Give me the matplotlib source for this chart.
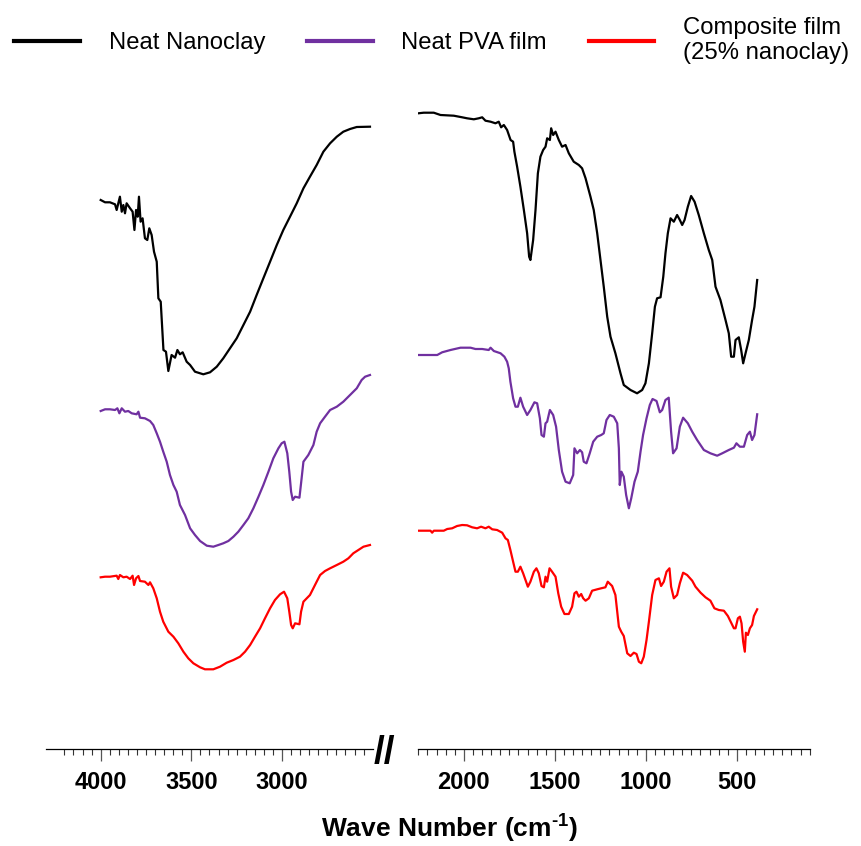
import matplotlib
matplotlib.use("Agg")
import matplotlib.pyplot as plt
from matplotlib.ticker import FixedLocator
from matplotlib.lines import Line2D

plt.rcParams['font.family'] = ['Liberation Sans', 'DejaVu Sans']
plt.rcParams['mathtext.fontset'] = 'custom'
plt.rcParams['mathtext.rm'] = 'Liberation Sans:bold'
plt.rcParams['mathtext.bf'] = 'Liberation Sans:bold'

# FTIR spectra, transmittance in arbitrary units (curves are offset)
# high wave number region (4000 - 2500 cm-1)
clay_hi_wn = [4000, 3976, 3949, 3921, 3912, 3894, 3884, 3875, 3866, 3857, 3838, 3824, 3814, 3805,
              3796, 3789, 3780, 3769, 3756, 3743, 3732, 3719, 3706, 3691, 3682, 3669, 3654, 3640,
              3627, 3609, 3590, 3577, 3563, 3548, 3526, 3507, 3480, 3434, 3397, 3360, 3324, 3287,
              3250, 3213, 3176, 3140, 3103, 3066, 3029, 2993, 2956, 2919, 2882, 2846, 2809, 2772,
              2735, 2698, 2662, 2625, 2588, 2515]
clay_hi_t = [550, 547.7, 547.7, 545.7, 540, 553.3, 538.3, 545, 536.7, 546.7, 541.7, 538.3, 520, 540,
             533.3, 553.3, 528.3, 531.7, 511.7, 510, 521.7, 515, 498.3, 488.3, 451.7, 448.3, 400, 398.3,
             379, 395, 392.3, 400, 395.7, 397.7, 388.3, 385, 378.3, 375.7, 377.7, 383.3, 391.7, 401.7,
             411.7, 425, 438.3, 455, 471.7, 488.3, 505, 520, 533.3, 546.7, 561.7, 573.3, 585, 598.3,
             606.7, 613.3, 618.3, 621, 623, 623.3]

pva_hi_wn = [4000, 3976, 3949, 3921, 3908, 3897, 3884, 3866, 3848, 3829, 3802, 3792, 3783, 3756,
             3728, 3710, 3691, 3673, 3655, 3636, 3618, 3599, 3581, 3563, 3535, 3507, 3480, 3452,
             3415, 3379, 3351, 3324, 3296, 3268, 3241, 3213, 3186, 3158, 3130, 3103, 3075, 3048,
             3020, 3002, 2987, 2971, 2960, 2950, 2941, 2928, 2904, 2892, 2882, 2855, 2827, 2809,
             2790, 2763, 2735, 2698, 2662, 2625, 2588, 2561, 2542, 2515]
pva_hi_t = [339, 340.7, 340.7, 340, 341.7, 336.7, 341.7, 338.3, 339, 336.7, 335.7, 338.3, 332.3, 331.7,
            329, 325, 316.7, 308.3, 298.3, 288.3, 275, 265, 258.3, 245, 235, 221.7, 215, 209,
            204.3, 203.3, 205, 206.7, 209, 213.3, 218.3, 225, 231.7, 241.7, 253.3, 265, 278.3, 291.7,
            301.7, 306.7, 308.3, 296.7, 278.3, 258.3, 250, 253.3, 252.3, 271.7, 288.3, 295, 305, 318.3,
            326.7, 333.3, 340, 343.3, 348.3, 355, 361.7, 370, 373.3, 375]

comp_hi_wn = [4000, 3976, 3949, 3912, 3903, 3894, 3875, 3857, 3838, 3824, 3816, 3805, 3792, 3783,
              3756, 3737, 3728, 3710, 3691, 3673, 3655, 3627, 3599, 3572, 3544, 3517, 3489, 3452,
              3425, 3379, 3342, 3305, 3268, 3232, 3204, 3176, 3149, 3121, 3094, 3066, 3039, 3011,
              2989, 2971, 2960, 2950, 2941, 2928, 2904, 2895, 2882, 2846, 2809, 2790, 2763, 2735,
              2698, 2662, 2634, 2607, 2579, 2551, 2515]
comp_hi_t = [172.7, 173.3, 173.3, 174.3, 171, 175, 172.7, 173.3, 171, 174.3, 165, 171.7, 174, 169,
             168.3, 165, 167.7, 161.7, 151.7, 138.3, 128.3, 118.3, 113.3, 106.7, 98.3, 91.7, 86.7, 82.7,
             80.7, 80.7, 83.3, 87.3, 90, 93.3, 98.3, 105, 113.3, 121.7, 131.7, 141.7, 150, 155.7,
             158.3, 151.7, 138.3, 125, 121.7, 126.7, 125.7, 138.3, 148.3, 155, 168.3, 175, 179, 181.7,
             185, 188.3, 191.7, 196.7, 200, 203.3, 205]

# low wave number region (2250 - 400 cm-1)
clay_lo_wn = [2250, 2220, 2165, 2128, 2055, 2009, 1982, 1945, 1918, 1899, 1881, 1853, 1826, 1808,
              1795, 1780, 1762, 1743, 1729, 1722, 1707, 1689, 1670, 1652, 1641, 1634, 1619, 1606,
              1593, 1579, 1564, 1551, 1542, 1527, 1520, 1509, 1496, 1478, 1460, 1441, 1423, 1396,
              1368, 1350, 1331, 1304, 1286, 1267, 1249, 1231, 1212, 1194, 1167, 1139, 1121, 1084,
              1048, 1020, 1002, 983, 965, 950, 938, 919, 904, 892, 879, 864, 846, 828, 813, 800,
              787, 769, 751, 732, 709, 681, 654, 635, 617, 590, 562, 544, 531, 516, 507, 489, 476,
              465, 452, 434, 416, 403, 388]
clay_lo_t = [636.7, 637.3, 637.3, 635, 634.3, 632.7, 631.7, 630.7, 631.7, 632.7, 629.3, 628.3, 626.7, 628.3,
             622.7, 625, 620, 610, 608.3, 598.3, 583.3, 563.3, 540, 516.7, 493.3, 490, 510, 540,
             576.7, 593.3, 600, 603.3, 611.7, 610, 621.7, 615, 618.3, 610, 603.3, 605, 596.7, 588.3,
             585, 581.7, 571.7, 553.3, 540, 516.7, 490, 463.3, 433.3, 413.3, 396.7, 376.7, 365, 360,
             356.7, 360, 366.7, 386.7, 416.7, 443.3, 451.7, 452.7, 473.3, 496.7, 516.7, 531.7, 528.3, 535, 530, 525,
             530, 543.3, 554, 548.3, 535, 516.7, 500, 490, 463.3, 450, 430, 416.7, 393.3, 393.3, 410, 412.7, 400,
             386.7, 396.7, 410, 430, 443.3, 470]

pva_lo_wn = [2250, 2146, 2119, 2073, 2018, 1963, 1936, 1899, 1863, 1853, 1835, 1798, 1777, 1762,
             1753, 1744, 1729, 1716, 1703, 1689, 1674, 1652, 1634, 1612, 1597, 1582, 1573, 1560,
             1551, 1542, 1527, 1509, 1493, 1478, 1460, 1441, 1418, 1399, 1392, 1377, 1362, 1350,
             1341, 1326, 1308, 1289, 1267, 1245, 1231, 1216, 1198, 1176, 1157, 1148, 1143, 1134,
             1121, 1108, 1093, 1080, 1062, 1044, 1029, 1015, 996, 978, 963, 941, 923, 910, 892,
             874, 861, 850, 831, 813, 795, 769, 745, 718, 681, 645, 608, 580, 544, 516, 502, 483,
             461, 443, 428, 416, 403, 388]
pva_lo_t = [395, 395, 397.7, 400, 402.3, 402.3, 401, 401, 400, 402.3, 399, 396.7, 393.3, 388.3,
            381.7, 368.3, 351.7, 343.3, 343.3, 352.3, 343.3, 335, 340, 347.7, 346.7, 331.7, 315, 313.3,
            326.7, 328.3, 340, 335, 323.3, 300, 278.3, 268.3, 266.7, 275, 301.7, 296.7, 300, 297.7,
            288.3, 286.7, 296.7, 308.3, 313.3, 315, 316.7, 330, 335, 333.3, 326.7, 301.7, 265, 278.3,
            273.3, 255, 241.7, 251.7, 268.3, 278.3, 298.3, 315, 331.7, 345, 351, 349, 337.7, 340, 350,
            352.3, 318.3, 296.7, 301.7, 323.3, 332.3, 326.7, 318.3, 310, 300, 296.7, 294.3, 296.7, 300, 302.3, 306.7, 303.3,
            303.3, 315, 318.3, 310, 315, 335.7]

comp_lo_wn = [2250, 2183, 2174, 2165, 2110, 2091, 2064, 2037, 2009, 1982, 1954, 1927, 1905, 1881,
              1863, 1844, 1817, 1789, 1771, 1758, 1744, 1729, 1716, 1703, 1689, 1674, 1661, 1648,
              1634, 1615, 1601, 1588, 1573, 1560, 1551, 1542, 1529, 1515, 1496, 1481, 1465, 1447,
              1423, 1405, 1392, 1381, 1368, 1355, 1344, 1331, 1313, 1295, 1267, 1245, 1222, 1209,
              1185, 1167, 1148, 1135, 1121, 1102, 1084, 1066, 1051, 1038, 1025, 1011, 996, 983,
              965, 947, 928, 916, 901, 886, 870, 861, 846, 828, 813, 795, 773, 745, 727, 699, 672,
              645, 623, 599, 571, 549, 531, 516, 507, 494, 483, 474, 465, 456, 450, 439, 428, 416,
              406, 388]
comp_lo_t = [219.3, 219.3, 217.3, 219.3, 219.3, 221, 221.7, 224, 225, 224.7, 222.7, 221.7, 223.3, 221.7,
             223.3, 220.7, 220, 217.3, 211.7, 210, 200, 188.3, 178.3, 178.3, 183.3, 176.7, 170, 163.3,
             168.3, 178.3, 181.7, 176.7, 164, 162.7, 173.3, 168.3, 181.7, 178.3, 173.3, 156.7, 143.3, 136,
             136, 143.3, 156.7, 158.3, 153.3, 156, 151.7, 149.3, 151.7, 159.3, 160.7, 161.7, 162.7, 168.3,
             164, 155, 123.3, 118.3, 114, 96.7, 94, 97.3, 96, 88.3, 86.7, 93.3, 110, 128.3,
             155, 170, 171.7, 164, 168.3, 178.3, 181.7, 163.3, 151.7, 155, 166.7, 177.3, 175, 169.3, 163.3, 157.3, 152.7,
             149.3, 141.7, 140, 139.3, 134, 127.3, 121.7, 121.7, 131.7, 133.3, 126.7, 108.3, 98.3, 117.3, 115, 121.7, 125,
             134, 140.7]

labels = ['Neat Nanoclay', 'Neat PVA film', 'Composite film\n(25% nanoclay)']
colors = ['black', '#7030A0', '#FF0000']

W, H = 861, 846
fig = plt.figure(figsize=(W / 100, H / 100), dpi=100)

bottom = 97 / H
height = 650 / H
ax1 = fig.add_axes([46.3 / W, bottom, 326.4 / W, height])
ax2 = fig.add_axes([418.3 / W, bottom, 391.3 / W, height])

for ax, series in [(ax1, [(clay_hi_wn, clay_hi_t), (pva_hi_wn, pva_hi_t), (comp_hi_wn, comp_hi_t)]),
                   (ax2, [(clay_lo_wn, clay_lo_t), (pva_lo_wn, pva_lo_t), (comp_lo_wn, comp_lo_t)])]:
    for (wn, t), c in zip(series, colors):
        ax.plot(wn, t, color=c, lw=1.6)
    ax.set_ylim(1, 651)
    for s in ['left', 'right', 'top']:
        ax.spines[s].set_visible(False)
    ax.spines['bottom'].set_linewidth(0.9)
    ax.set_yticks([])
    ax.tick_params(axis='x', which='major', length=8.6, width=0.9, color='#555555',
                   labelsize=17, pad=7)
    ax.tick_params(axis='x', which='minor', length=4.3, width=0.8, color='#333333')

ax1.set_xlim(4300, 2500)
ax1.xaxis.set_major_locator(FixedLocator([4000, 3500, 3000]))
ax1.xaxis.set_minor_locator(FixedLocator([v for v in range(4200, 2500, -50) if v % 500]))
ax2.set_xlim(2250, 100)
ax2.xaxis.set_major_locator(FixedLocator([2000, 1500, 1000, 500]))
ax2.xaxis.set_minor_locator(FixedLocator([v for v in range(2250, 50, -50) if v % 500]))
for ax in (ax1, ax2):
    for lab in ax.get_xticklabels():
        lab.set_fontweight('bold')

# axis break mark
fig.text(384 / W, 1 - 753 / H, '//', fontsize=28, fontweight='bold', ha='center', va='center')

fig.text(450 / W, 1 - 828 / H, r'Wave Number (cm$^{\text{-1}}$)', fontsize=19, fontweight='bold',
         ha='center', va='center')

handles = [Line2D([], [], color=c, lw=3) for c in colors]
fig.legend(handles, labels, ncol=3, loc='upper left', bbox_to_anchor=(0.0, 0.997),
           frameon=False, fontsize=17.2, handlelength=2.75, handletextpad=1.2,
           columnspacing=1.75, borderaxespad=0.2)

fig.savefig('out.png', dpi=100)
